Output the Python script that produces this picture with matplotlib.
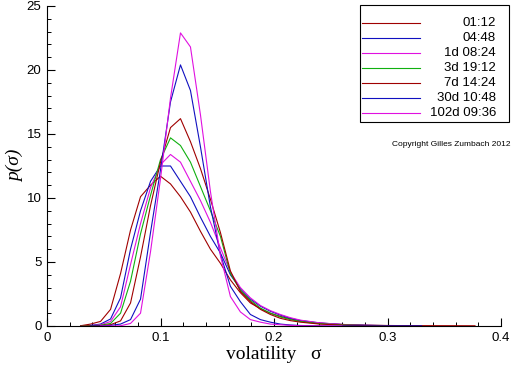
import numpy as np
import matplotlib
matplotlib.use("Agg")
import matplotlib.pyplot as plt
from matplotlib.ticker import MultipleLocator
from matplotlib.lines import Line2D
from matplotlib.patches import Rectangle

# volatility grid (bins), common to all curves
vol = [0.0296, 0.0384, 0.0472, 0.0560, 0.0648, 0.0736, 0.0824, 0.0912,
       0.1000, 0.1088, 0.1176, 0.1264, 0.1352, 0.1440, 0.1528, 0.1616,
       0.1704, 0.1792, 0.1880, 0.1968, 0.2056, 0.2144, 0.2232,
       0.2400, 0.2600, 0.2800, 0.3000, 0.3300, 0.3600, 0.3770]

nan = np.nan
p_0112 = [0.02, 0.15, 0.36, 1.3, 4.1, 7.5, 10.1, 11.0, 11.7, 11.1, 10.1, 8.9,
          7.4, 6.0, 4.9, 3.6, 2.6, 1.8, 1.35, 1.0, 0.75, 0.55, 0.4,
          0.22, 0.12, 0.07, 0.04, 0.02, 0.01, 0.0]
p_0448 = [0.0, 0.05, 0.15, 0.55, 2.2, 6.0, 9.0, 11.3, 12.5, 12.5, 11.3, 10.1,
          8.5, 7.0, 5.7, 4.0, 2.9, 2.1, 1.55, 1.15, 0.85, 0.6, 0.43,
          0.24, 0.12, 0.06, 0.03, 0.01, nan, nan]
p_1d0824 = [0.0, 0.03, 0.1, 0.35, 1.5, 4.8, 8.0, 10.8, 12.6, 13.4, 12.8, 11.3,
            9.8, 8.1, 6.1, 4.2, 3.0, 2.2, 1.6, 1.2, 0.9, 0.65, 0.46,
            0.25, 0.12, 0.05, 0.02, nan, nan, nan]
p_3d1912 = [0.0, 0.02, 0.06, 0.2, 1.0, 3.5, 7.2, 10.2, 13.0, 14.7, 14.1, 12.8,
            10.9, 9.0, 7.0, 4.1, 2.8, 2.0, 1.4, 1.0, 0.7, 0.5, 0.35,
            0.18, 0.09, 0.04, 0.0, nan, nan, nan]
p_7d1424 = [0.0, 0.0, 0.03, 0.1, 0.4, 1.8, 5.4, 9.4, 12.8, 15.5, 16.2, 14.4,
            12.3, 9.9, 7.3, 4.3, 2.7, 1.9, 1.3, 0.9, 0.6, 0.42, 0.3,
            0.15, 0.07, 0.03, 0.01, 0.0, 0.0, 0.0]
p_30d1048 = [nan, 0.0, 0.0, 0.05, 0.15, 0.5, 2.1, 7.3, 12.2, 17.5, 20.4, 18.4,
             14.0, 9.3, 5.6, 3.1, 1.9, 0.9, 0.5, 0.3, 0.15, 0.08, 0.04,
             0.01, 0.0, 0.0, 0.0, 0.0, nan, nan]
p_102d0936 = [nan, nan, 0.0, 0.0, 0.02, 0.2, 1.0, 5.8, 11.5, 17.8, 22.9, 21.8,
              16.5, 10.5, 5.5, 2.3, 1.1, 0.5, 0.3, 0.15, 0.1, 0.05, 0.02,
              0.01, 0.0, nan, nan, nan, nan, nan]

labels = ["01:12", "04:48", "1d 08:24", "3d 19:12", "7d 14:24",
          "30d 10:48", "102d 09:36"]
series = [p_0112, p_0448, p_1d0824, p_3d1912, p_7d1424, p_30d1048, p_102d0936]
colors = ["#a00000", "#1010c0", "#e010e0", "#10b010", "#a00000", "#1010c0", "#e010e0"]

W, H = 512, 366
fig = plt.figure(figsize=(W / 100, H / 100), dpi=100)
ax = fig.add_axes([47 / W, 1 - 326 / H, 454 / W, 320 / H])

for y, c in zip(series, colors):
    ax.plot(vol, y, color=c, linewidth=0.8)

ax.set_xlim(0, 0.4)
ax.set_ylim(0, 25)
ax.spines["top"].set_visible(False)
ax.spines["right"].set_visible(False)
ax.xaxis.set_major_locator(MultipleLocator(0.1))
ax.xaxis.set_minor_locator(MultipleLocator(0.02))
ax.yaxis.set_major_locator(MultipleLocator(5))
ax.yaxis.set_minor_locator(MultipleLocator(1))
ax.set_xticks([0, 0.1, 0.2, 0.3, 0.4])
ax.set_xticklabels(["0", "0.1", "0.2", "0.3", "0.4"])
ax.tick_params(which="major", direction="in", length=6, width=0.8,
               labelsize=9.5, pad=4)
ax.tick_params(which="minor", direction="in", length=3, width=0.7)
for t in ax.get_xticklabels() + ax.get_yticklabels():
    t.set_family("Liberation Sans")

ax.set_xlabel("volatility   σ", family="Liberation Serif", fontsize=14, labelpad=2)
ax.set_ylabel("p(σ)", family="Liberation Serif", style="italic", fontsize=14,
              labelpad=2)

# legend box drawn by hand (labels are right aligned)
fig.patches.append(Rectangle((360 / W, 1 - 122 / H), 149 / W, 117 / H,
                             transform=fig.transFigure, fill=False,
                             edgecolor="black", linewidth=0.8))
for i, (lab, c) in enumerate(zip(labels, colors)):
    yy = 1 - (22.5 + i * 15.1) / H
    fig.lines.append(Line2D([362 / W, 420 / W], [yy, yy], color=c,
                            linewidth=0.8, transform=fig.transFigure))
    fig.text(496 / W, yy, lab, ha="right", va="center", fontsize=9.5,
             family="Liberation Sans")

fig.text(510 / W, 1 - 144 / H, "Copyright Gilles Zumbach 2012", ha="right",
         va="center", fontsize=6, family="Liberation Sans")

fig.savefig("out.png", dpi=100)
